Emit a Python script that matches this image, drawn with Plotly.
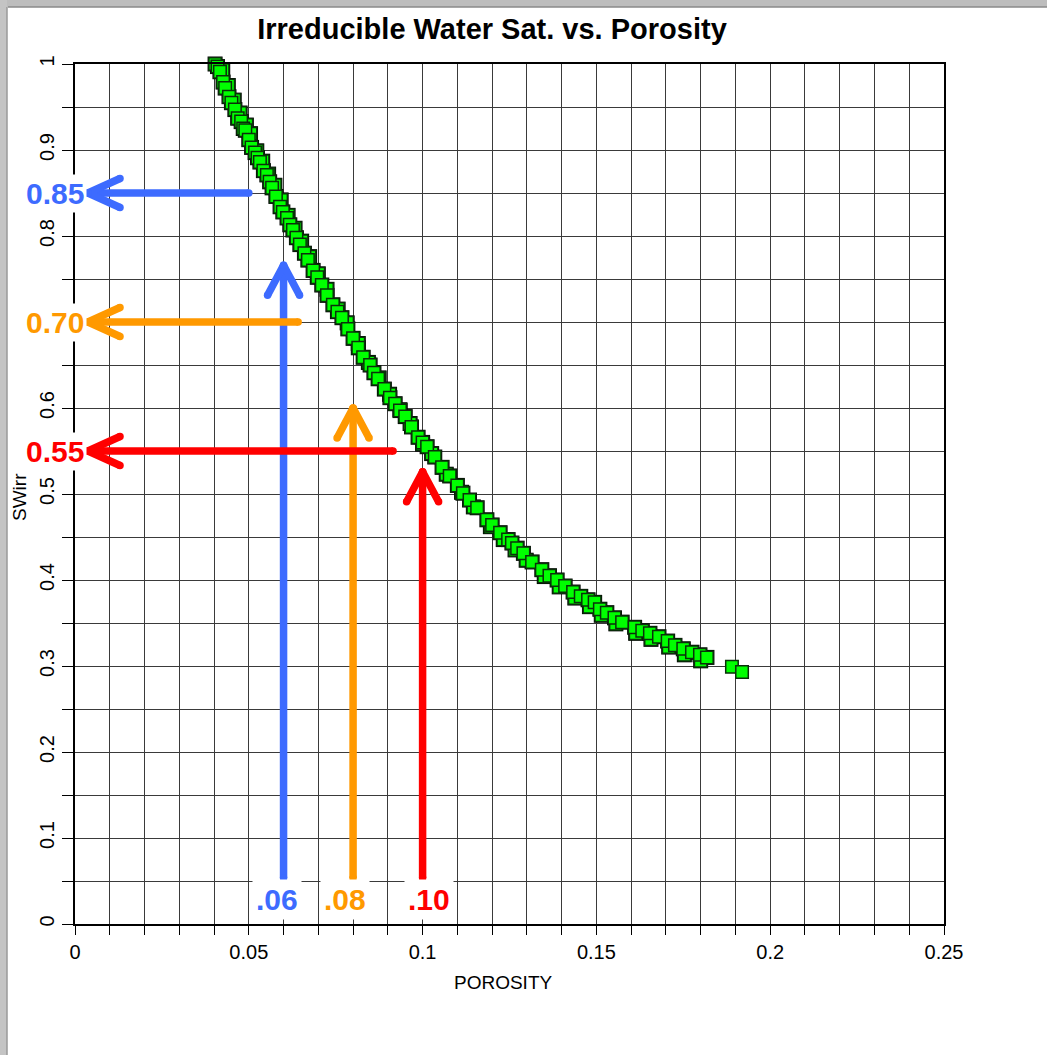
import plotly.graph_objects as go

# ---- measured core data (porosity fraction, irreducible water saturation) ----
# samples along the lower edge of the cloud, then the upper edge
porosity = [
    0.0425, 0.0441, 0.0458, 0.0475, 0.0493, 0.0505, 0.0523, 0.0540, 0.0557, 0.0575,
    0.0593, 0.0613, 0.0633, 0.0652, 0.0675, 0.0700, 0.0725, 0.0757, 0.0783, 0.0815,
    0.0844, 0.0875, 0.0905, 0.0935, 0.0964, 0.1000, 0.1026, 0.1068, 0.1112, 0.1146,
    0.1195, 0.1232, 0.1266, 0.1298, 0.1350, 0.1393, 0.1438, 0.1480, 0.1514, 0.1556,
    0.1613, 0.1657, 0.1708, 0.1753, 0.1800,
    0.0403, 0.0410, 0.0417, 0.0426, 0.0432, 0.0443, 0.0450, 0.0460, 0.0468, 0.0478,
    0.0484, 0.0490, 0.0500, 0.0508, 0.0518, 0.0525, 0.0532, 0.0542, 0.0552, 0.0560,
    0.0567, 0.0578, 0.0590, 0.0598, 0.0610, 0.0618, 0.0627, 0.0637, 0.0647, 0.0660,
    0.0670, 0.0685, 0.0697, 0.0710, 0.0725, 0.0742, 0.0755, 0.0768, 0.0785, 0.0800,
    0.0815, 0.0829, 0.0849, 0.0860, 0.0872, 0.0890, 0.0906, 0.0921, 0.0935, 0.0950,
    0.0968, 0.0987, 0.1000, 0.1013, 0.1035, 0.1056, 0.1078, 0.1100, 0.1116, 0.1135,
    0.1157, 0.1185, 0.1200, 0.1223, 0.1246, 0.1257, 0.1272, 0.1290, 0.1315, 0.1343,
    0.1365, 0.1387, 0.1410, 0.1433, 0.1455, 0.1476, 0.1495, 0.1510, 0.1530, 0.1552,
    0.1574, 0.1610, 0.1632, 0.1654, 0.1680, 0.1705, 0.1726, 0.1750, 0.1775, 0.1798,
    0.1818, 0.1890, 0.1919,
]
swirr = [
    0.993, 0.975, 0.958, 0.943, 0.929, 0.919, 0.899, 0.887, 0.872, 0.859,
    0.842, 0.824, 0.809, 0.794, 0.776, 0.756, 0.738, 0.715, 0.699, 0.675,
    0.653, 0.635, 0.616, 0.598, 0.582, 0.558, 0.547, 0.523, 0.502, 0.485,
    0.462, 0.447, 0.435, 0.423, 0.404, 0.392, 0.379, 0.369, 0.359, 0.349,
    0.338, 0.331, 0.322, 0.313, 0.306,
    1.000, 0.997, 0.991, 0.979, 0.972, 0.962, 0.955, 0.947, 0.937, 0.933,
    0.925, 0.923, 0.912, 0.903, 0.897, 0.891, 0.886, 0.876, 0.871, 0.863,
    0.856, 0.846, 0.834, 0.828, 0.821, 0.813, 0.807, 0.798, 0.790, 0.780,
    0.772, 0.760, 0.752, 0.743, 0.731, 0.720, 0.712, 0.705, 0.692, 0.681,
    0.670, 0.659, 0.650, 0.641, 0.634, 0.622, 0.612, 0.605, 0.597, 0.590,
    0.578, 0.566, 0.560, 0.555, 0.543, 0.531, 0.521, 0.510, 0.501, 0.493,
    0.484, 0.470, 0.464, 0.455, 0.447, 0.443, 0.437, 0.431, 0.421, 0.412,
    0.405, 0.400, 0.393, 0.386, 0.381, 0.377, 0.374, 0.366, 0.362, 0.356,
    0.351, 0.345, 0.341, 0.338, 0.334, 0.329, 0.324, 0.320, 0.316, 0.313,
    0.310, 0.299, 0.293,
]

# ---- worked read-off examples: porosity -> Swirr ----
read_porosity = [0.06, 0.08, 0.10]
read_swirr = [0.85, 0.70, 0.55]
read_porosity_labels = [".06", ".08", ".10"]
read_swirr_labels = ["0.85", "0.70", "0.55"]
read_colors = ["#3d6bff", "#ff9900", "#ff0000"]

x_tick_vals = [0, 0.05, 0.10, 0.15, 0.20, 0.25]
x_tick_text = ["0", "0.05", "0.1", "0.15", "0.2", "0.25"]
y_tick_vals = [0, 0.1, 0.2, 0.3, 0.4, 0.5, 0.6, 0.7, 0.8, 0.9, 1.0]
y_tick_text = ["0", "0.1", "0.2", "0.3", "0.4", "0.5", "0.6", "0.7", "0.8", "0.9", "1"]

# ---- page geometry (pixels) ----
W, H = 1047, 1055
L, R, T, B = 75, 944, 64, 924
XR, YR = (0.0, 0.25), (0.0, 1.0)


def dx(px):
    return px * (XR[1] - XR[0]) / (R - L)


def dy(px):
    return px * (YR[1] - YR[0]) / (B - T)


FONT = "Liberation Sans, Arial, sans-serif"
GRID = "#3a3a3a"

fig = go.Figure()

# dark halo under the cloud, then the green squares on top
fig.add_trace(go.Scatter(
    x=porosity[:-2], y=swirr[:-2], mode="markers", cliponaxis=False,
    marker=dict(symbol="square", size=15, color="#000000", line=dict(width=0)),
    showlegend=False, hoverinfo="skip",
))
fig.add_trace(go.Scatter(
    x=porosity, y=swirr, mode="markers", cliponaxis=False,
    marker=dict(symbol="square", size=12.5, color="#00ff00",
                line=dict(color="#0a300a", width=1.5)),
    showlegend=False, hoverinfo="skip",
))

# shaft ends / arrow tips (styling geometry)
h_shaft_end = [0.0500, 0.0642, 0.0915]   # horizontal arrows: right end of shaft
v_tip = [0.766, 0.600, 0.526]            # vertical arrows: tip height
v_base = dy(B - 878)                     # vertical arrows: bottom of shaft
h_tip = dx(13)                           # horizontal arrows: tip x

for px_, sw, col, hend, vt in zip(read_porosity, read_swirr, read_colors, h_shaft_end, v_tip):
    xs = [hend, h_tip, None, h_tip + dx(32), h_tip, h_tip + dx(32), None,
          px_, px_, None, px_ - dx(16), px_, px_ + dx(16)]
    ys = [sw, sw, None, sw + dy(14.5), sw, sw - dy(14.5), None,
          v_base, vt, None, vt - dy(30), vt, vt - dy(30)]
    fig.add_trace(go.Scatter(
        x=xs, y=ys, mode="lines+markers", cliponaxis=False,
        line=dict(color=col, width=7.5),
        marker=dict(size=7.5, color=col, symbol="circle", line=dict(width=0)),
        showlegend=False, hoverinfo="skip",
    ))

annotations = []
for sw, lab, col in zip(read_swirr, read_swirr_labels, read_colors):
    annotations.append(dict(
        x=dx(12), y=sw, xref="x", yref="y", text=f"<b>{lab}</b>",
        xanchor="right", yanchor="middle", showarrow=False,
        font=dict(family=FONT, size=30, color=col),
        bgcolor="white", borderpad=2,
    ))
label_shift = [-7, -8, 6]
for px_, lab, col, sh in zip(read_porosity, read_porosity_labels, read_colors, label_shift):
    annotations.append(dict(
        x=px_ + dx(sh), y=dy(B - 899), xref="x", yref="y", text=f"<b>{lab}</b>",
        xanchor="center", yanchor="middle", showarrow=False,
        font=dict(family=FONT, size=30, color=col),
        bgcolor="white", borderpad=3,
    ))

pw, ph = R - L, B - T
annotations.append(dict(
    x=(20 - L) / pw, y=(B - 497) / ph, xref="paper", yref="paper", text="SWirr",
    textangle=-90, showarrow=False, xanchor="center", yanchor="middle",
    font=dict(family=FONT, size=19, color="black"),
))
annotations.append(dict(
    x=(503 - L) / pw, y=(B - 982) / ph, xref="paper", yref="paper", text="POROSITY",
    showarrow=False, xanchor="center", yanchor="middle",
    font=dict(family=FONT, size=19, color="black"),
))

# window frame strips along the top and left edges
shapes = [
    dict(type="rect", xref="paper", yref="paper", layer="above",
         x0=-L / pw, x1=(W - L) / pw, y0=(B - 7) / ph, y1=B / ph,
         fillcolor="#bdbdbd", line=dict(width=0)),
    dict(type="line", xref="paper", yref="paper", layer="above",
         x0=(8 - L) / pw, x1=(W - L) / pw, y0=(B - 7) / ph, y1=(B - 7) / ph,
         line=dict(color="#8a8a8a", width=1.5)),
    dict(type="rect", xref="paper", yref="paper", layer="above",
         x0=-L / pw, x1=(7 - L) / pw, y0=(B - H) / ph, y1=B / ph,
         fillcolor="#c4c4c4", line=dict(width=0)),
    dict(type="line", xref="paper", yref="paper", layer="above",
         x0=(7 - L) / pw, x1=(7 - L) / pw, y0=(B - H) / ph, y1=(B - 7) / ph,
         line=dict(color="#9a9a9a", width=1.5)),
]

fig.update_layout(
    width=W, height=H,
    margin=dict(l=L, r=W - R, t=T, b=H - B, pad=0),
    paper_bgcolor="white", plot_bgcolor="white",
    title=dict(text="<b>Irreducible Water Sat. vs. Porosity</b>",
               x=(492 - L) / pw, xref="paper", xanchor="center",
               y=1 - 29 / H, yref="container", yanchor="middle",
               font=dict(family=FONT, size=29, color="black")),
    font=dict(family=FONT, size=20, color="black"),
    annotations=annotations, shapes=shapes,
    xaxis=dict(range=list(XR), tickvals=x_tick_vals, ticktext=x_tick_text,
               ticks="outside", ticklen=9, tickcolor="black", tickwidth=1,
               showgrid=True, gridcolor=GRID, gridwidth=1,
               minor=dict(dtick=0.01, tick0=0, ticks="outside", ticklen=9,
                          tickcolor="black", showgrid=True, gridcolor=GRID, gridwidth=1),
               showline=True, linecolor="black", linewidth=1.5, mirror=True,
               zeroline=False, tickfont=dict(size=20)),
    yaxis=dict(range=list(YR), tickvals=y_tick_vals, ticktext=y_tick_text,
               tickangle=-90, ticks="outside", ticklen=11, tickcolor="black",
               showgrid=True, gridcolor=GRID, gridwidth=1,
               minor=dict(dtick=0.05, tick0=0, ticks="outside", ticklen=11,
                          tickcolor="black", showgrid=True, gridcolor=GRID, gridwidth=1),
               showline=True, linecolor="black", linewidth=1.5, mirror=True,
               zeroline=False, tickfont=dict(size=20)),
)

fig.write_html("out.html")
